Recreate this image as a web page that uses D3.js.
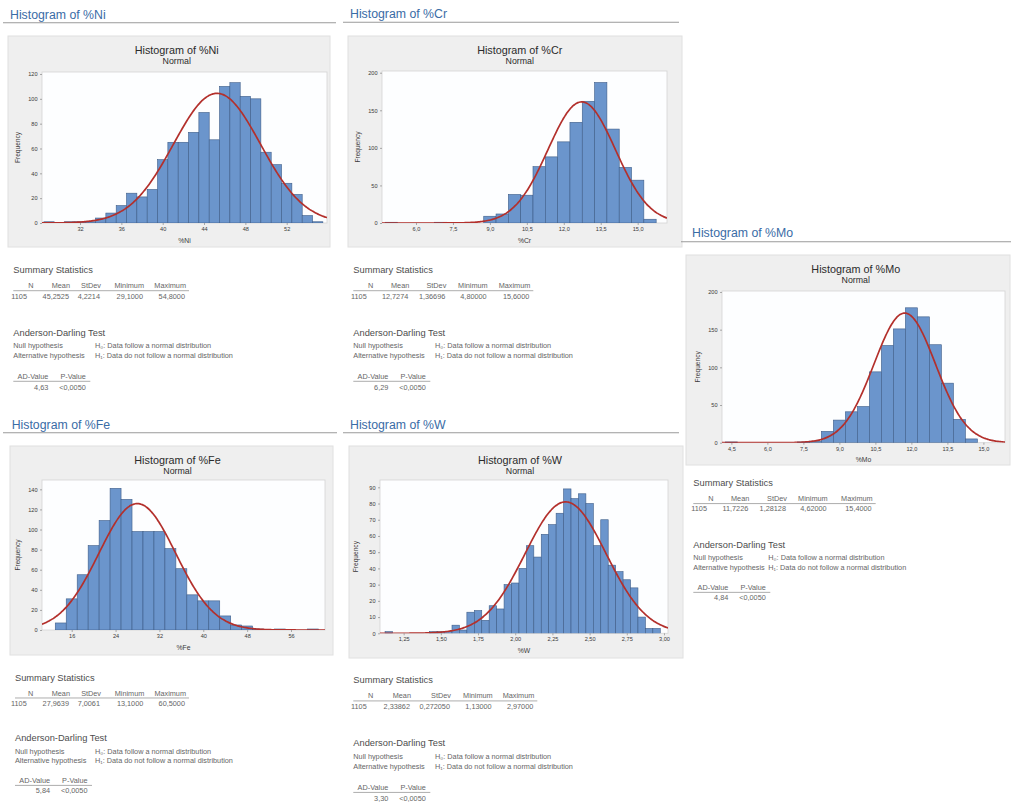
<!DOCTYPE html>
<html>
<head>
<meta charset="utf-8">
<script src="https://cdn.jsdelivr.net/npm/d3@7"></script>
<style>
  html, body { margin: 0; padding: 0; background: #ffffff; }
  svg { display: block; font-family: "Liberation Sans", Arial, Helvetica, sans-serif; }
</style>
</head>
<body>
<svg id="chart" width="1011" height="805"></svg>
<script>
// ---------- histogram data: bin centres and frequencies ----------
const niBins   = [29,30,31,32,33,34,35,36,37,38,39,40,41,42,43,44,45,46,47,48,49,50,51,52,53,54,55];
const niCounts = [1,0,1,1,1,4,8,14,24,21,27,51,65,65,73,89,67,110,113,102,100,57,47,32,23,6,1];
const niWidth  = 1;

const crBins   = [5.0,5.5,6.0,6.5,7.0,7.5,8.0,8.5,9.0,9.5,10.0,10.5,11.0,11.5,12.0,12.5,13.0,13.5,14.0,14.5,15.0,15.5];
const crCounts = [1,0,0,0,1,0,0,0,9,12,38,37,75,88,108,134,162,187,125,74,57,5];
const crWidth  = 0.5;

const moBins   = [4.5,5.0,5.5,6.0,6.5,7.0,7.5,8.0,8.5,9.0,9.5,10.0,10.5,11.0,11.5,12.0,12.5,13.0,13.5,14.0,14.5];
const moCounts = [1,0,0,0,0,0,1,2,15,30,41,48,94,129,151,179,167,130,79,31,5];
const moWidth  = 0.5;

const feBins   = [14,16,18,20,22,24,26,28,30,32,34,36,38,40,42,44,46,48,50,52,54,56,58,60];
const feCounts = [7,31,55,84,109,141,130,98,98,98,81,61,35,29,29,14,5,4,1,0,1,0,0,1];
const feWidth  = 2;

const wBins   = [1.15,1.20,1.25,1.30,1.35,1.40,1.45,1.50,1.55,1.60,1.65,1.70,1.75,1.80,1.85,1.90,1.95,2.00,
                 2.05,2.10,2.15,2.20,2.25,2.30,2.35,2.40,2.45,2.50,2.55,2.60,2.65,2.70,2.75,2.80,2.85,2.90,2.95];
const wCounts = [1,0,0,0,0,0,1,1,1,5,2,13,14,8,17,15,30,31,40,54,47,61,67,74,89,83,86,80,54,70,42,38,33,28,10,3,3];
const wWidth  = 0.05;

// ---------- axis ticks ----------
const niXTicks = [32,36,40,44,48,52];
const niYTicks = [0,20,40,60,80,100,120];
const crXTicks = [6.0,7.5,9.0,10.5,12.0,13.5,15.0];
const crYTicks = [0,50,100,150,200];
const moXTicks = [4.5,6.0,7.5,9.0,10.5,12.0,13.5,15.0];
const moYTicks = [0,50,100,150,200];
const feXTicks = [16,24,32,40,48,56];
const feYTicks = [0,20,40,60,80,100,120,140];
const wXTicks  = [1.25,1.50,1.75,2.00,2.25,2.50,2.75,3.00];
const wYTicks  = [0,10,20,30,40,50,60,70,80,90];

// ---------- summary statistics: N, Mean, StDev, Minimum, Maximum ----------
const statHeaders = ["N","Mean","StDev","Minimum","Maximum"];
const niSummary = ["1105","45,2525","4,2214","29,1000","54,8000"];
const crSummary = ["1105","12,7274","1,36696","4,80000","15,6000"];
const moSummary = ["1105","11,7226","1,28128","4,62000","15,4000"];
const feSummary = ["1105","27,9639","7,0061","13,1000","60,5000"];
const wSummary  = ["1105","2,33862","0,272050","1,13000","2,97000"];

// ---------- Anderson-Darling results: AD-Value, P-Value ----------
const adHeaders = ["AD-Value","P-Value"];
const niAD = ["4,63","<0,0050"];
const crAD = ["6,29","<0,0050"];
const moAD = ["4,84","<0,0050"];
const feAD = ["5,84","<0,0050"];
const wAD  = ["3,30","<0,0050"];

const hypLabels = ["Null hypothesis","Alternative hypothesis"];
const hypTexts  = ["H\u2080: Data follow a normal distribution","H\u2081: Data do not follow a normal distribution"];

// ---------- panel layout ----------
const panels = [
  { name: "Ni", bins: niBins, counts: niCounts, width: niWidth, xTicks: niXTicks, yTicks: niYTicks, xDec: 0,
    summary: niSummary, ad: niAD,
    head: { x: 10, y: 14.8, x1: 3, x2: 336, ry: 22.8 }, box: [8, 36, 330, 247],
    plot: [42, 72, 327, 223], xDom: [28.32, 55.9], yMax: 121.6,
    stats: { x: 13.3, y: 270, s: 1, cols: [13.7, 55.7, 86.7, 129.7, 171.7], hyp: 81.7 } },
  { name: "Cr", bins: crBins, counts: crCounts, width: crWidth, xTicks: crXTicks, yTicks: crYTicks, xDec: 1,
    summary: crSummary, ad: crAD,
    head: { x: 350, y: 14.3, x1: 343, x2: 679, ry: 22.3 }, box: [348, 36, 682, 247],
    plot: [382, 71, 667, 223], xDom: [4.62, 16.19], yMax: 202.3,
    stats: { x: 353.3, y: 270, s: 1, cols: [13.4, 55, 92, 133.4, 176], hyp: 81.7 } },
  { name: "Mo", bins: moBins, counts: moCounts, width: moWidth, xTicks: moXTicks, yTicks: moYTicks, xDec: 1,
    summary: moSummary, ad: moAD,
    head: { x: 692, y: 233.3, x1: 681, x2: 1011, ry: 241.8 }, box: [686, 255, 1010, 465],
    plot: [722, 291, 1005, 442.7], xDom: [4.11, 15.9], yMax: 201.3,
    stats: { x: 693.3, y: 483.3, s: 0.98, cols: [13.7, 55, 92.7, 133.4, 178.4], hyp: 75 } },
  { name: "Fe", bins: feBins, counts: feCounts, width: feWidth, xTicks: feXTicks, yTicks: feYTicks, xDec: 0,
    summary: feSummary, ad: feAD,
    head: { x: 11.7, y: 425, x1: 3, x2: 337, ry: 432.8 }, box: [10, 446, 333, 655],
    plot: [42, 480, 325, 630], xDom: [10.58, 62.2], yMax: 149.3,
    stats: { x: 15, y: 678, s: 0.965, cols: [11.7, 54, 85, 128.3, 170], hyp: 80 } },
  { name: "W", bins: wBins, counts: wCounts, width: wWidth, xTicks: wXTicks, yTicks: wYTicks, xDec: 2,
    summary: wSummary, ad: wAD,
    head: { x: 350, y: 425, x1: 343, x2: 679, ry: 432.8 }, box: [349, 446, 683, 658],
    plot: [380, 480, 668, 633.3], xDom: [1.091, 3.027], yMax: 94.5,
    stats: { x: 353.3, y: 680, s: 1.01, cols: [13.4, 56.7, 96.7, 138.4, 180], hyp: 81.7 } }
];

// ---------- styling ----------
const C = {
  heading: "#3a6ca6", rule: "#9a9a9a",
  box: "#efefef", boxEdge: "#e0e0e0",
  plotBg: "#fdfeff", plotEdge: "#d4d4d4",
  barFill: "#6b95cc", barEdge: "#3e5d88",
  curve: "#b3302c",
  title: "#2b2b2b", axis: "#3a3a3a",
  statTitle: "#4d4d4d", statText: "#666666"
};

const commaLocale = d3.formatLocale({ decimal: ",", thousands: ".", grouping: [3], currency: ["", ""] });
const parseNum = s => +s.replace(",", ".");

const svg = d3.select("#chart");
const defs = svg.append("defs");

panels.forEach(p => {
  const g = svg.append("g").attr("class", "panel-" + p.name);

  // section heading with rule
  g.append("text")
    .attr("x", p.head.x).attr("y", p.head.y)
    .attr("dominant-baseline", "central")
    .attr("font-size", 12.3).attr("fill", C.heading)
    .text("Histogram of %" + p.name);
  g.append("line")
    .attr("x1", p.head.x1).attr("x2", p.head.x2)
    .attr("y1", p.head.ry).attr("y2", p.head.ry)
    .attr("stroke", C.rule).attr("stroke-width", 1.1);

  // grey graph frame
  const [bx0, by0, bx1, by1] = p.box;
  g.append("rect")
    .attr("x", bx0).attr("y", by0).attr("width", bx1 - bx0).attr("height", by1 - by0)
    .attr("fill", C.box).attr("stroke", C.boxEdge).attr("stroke-width", 1);

  // plot area and scales
  const [L, T, R, B] = p.plot;
  const x = d3.scaleLinear().domain(p.xDom).range([L, R]);
  const y = d3.scaleLinear().domain([0, p.yMax]).range([B, T]);

  g.append("rect")
    .attr("x", L).attr("y", T).attr("width", R - L).attr("height", B - T)
    .attr("fill", C.plotBg).attr("stroke", C.plotEdge).attr("stroke-width", 0.8);

  const clipId = "clip-" + p.name;
  defs.append("clipPath").attr("id", clipId)
    .append("rect").attr("x", L).attr("y", T).attr("width", R - L).attr("height", B - T);

  // titles inside the frame
  const tx = ((bx0 + bx1) / 2 + (L + R) / 2) / 2;
  g.append("text")
    .attr("x", tx).attr("y", by0 + 13.8)
    .attr("text-anchor", "middle").attr("dominant-baseline", "central")
    .attr("font-size", 10.8).attr("fill", C.title)
    .text("Histogram of %" + p.name);
  g.append("text")
    .attr("x", tx).attr("y", by0 + 24.5)
    .attr("text-anchor", "middle").attr("dominant-baseline", "central")
    .attr("font-size", 8.8).attr("fill", C.title)
    .text("Normal");

  // histogram bars
  const rows = p.bins.map((b, i) => ({ c: b, n: p.counts[i] })).filter(d => d.n > 0);
  g.append("g").attr("clip-path", "url(#" + clipId + ")")
    .selectAll("rect").data(rows).join("rect")
    .attr("x", d => x(d.c - p.width / 2))
    .attr("width", d => x(d.c + p.width / 2) - x(d.c - p.width / 2))
    .attr("y", d => y(d.n))
    .attr("height", d => y(0) - y(d.n))
    .attr("fill", C.barFill).attr("stroke", C.barEdge).attr("stroke-width", 0.6);

  // fitted normal curve scaled to counts: N * binWidth * pdf(x)
  const n = parseNum(p.summary[0]), mu = parseNum(p.summary[1]), sd = parseNum(p.summary[2]);
  const steps = 240;
  const pts = d3.range(steps + 1).map(i => {
    const xv = p.xDom[0] + (p.xDom[1] - p.xDom[0]) * i / steps;
    const z = (xv - mu) / sd;
    return [xv, n * p.width * Math.exp(-0.5 * z * z) / (sd * Math.sqrt(2 * Math.PI))];
  });
  g.append("path")
    .attr("clip-path", "url(#" + clipId + ")")
    .attr("d", d3.line().x(d => x(d[0])).y(d => y(d[1])).curve(d3.curveBasis)(pts))
    .attr("fill", "none").attr("stroke", C.curve).attr("stroke-width", 1.7);

  // axes
  const xFmt = commaLocale.format("." + p.xDec + "f");
  const xAxis = g.append("g").attr("transform", `translate(0,${B})`)
    .call(d3.axisBottom(x).tickValues(p.xTicks).tickSize(2).tickPadding(2).tickFormat(xFmt));
  const yAxis = g.append("g").attr("transform", `translate(${L},0)`)
    .call(d3.axisLeft(y).tickValues(p.yTicks).tickSize(2).tickPadding(2.5).tickFormat(d3.format("d")));
  [xAxis, yAxis].forEach(ax => {
    ax.select(".domain").remove();
    ax.selectAll(".tick line").attr("stroke", "#777").attr("stroke-width", 0.6);
    ax.selectAll(".tick text").attr("font-size", 5.6).attr("fill", C.axis)
      .attr("font-family", "\"Liberation Sans\", Arial, sans-serif");
  });

  g.append("text")
    .attr("x", (L + R) / 2).attr("y", B + 17)
    .attr("text-anchor", "middle").attr("dominant-baseline", "central")
    .attr("font-size", 6.8).attr("fill", C.axis)
    .text("%" + p.name);
  g.append("text")
    .attr("transform", `translate(${L - 25},${(T + B) / 2}) rotate(-90)`)
    .attr("text-anchor", "middle").attr("dominant-baseline", "central")
    .attr("font-size", 6.6).attr("fill", C.axis)
    .text("Frequency");

  // ---------- statistics tables ----------
  const s = p.stats;
  const sg = g.append("g").attr("transform", `translate(${s.x},${s.y})`);
  const yy = v => v * s.s;
  const txt = (xp, yp, str, size, fill, anchor) => sg.append("text")
    .attr("x", xp).attr("y", yy(yp))
    .attr("dominant-baseline", "central")
    .attr("text-anchor", anchor || "start")
    .attr("font-size", size).attr("fill", fill).text(str);

  txt(0, 0, "Summary Statistics", 9.3, C.statTitle);
  statHeaders.forEach((h, i) => txt(s.cols[i] + (i === 0 ? 6.5 : 1), 15.7, h, 7.3, C.statText, "end"));
  sg.append("line").attr("x1", 0).attr("x2", s.cols[4] + 4)
    .attr("y1", yy(20.7)).attr("y2", yy(20.7))
    .attr("stroke", "#8a8a8a").attr("stroke-width", 0.7);
  p.summary.forEach((v, i) => txt(s.cols[i], 26, v, 7.3, C.statText, "end"));

  txt(0, 62.5, "Anderson-Darling Test", 9.3, C.statTitle);
  hypLabels.forEach((h, i) => {
    txt(0, 75.7 + i * 10, h, 7.3, C.statText);
    txt(s.hyp, 75.7 + i * 10, hypTexts[i], 7.3, C.statText);
  });
  const adCols = [35, 72.5];
  adHeaders.forEach((h, i) => txt(adCols[i], 106.5, h, 7.3, C.statText, "end"));
  sg.append("line").attr("x1", 0).attr("x2", 77)
    .attr("y1", yy(111.3)).attr("y2", yy(111.3))
    .attr("stroke", "#8a8a8a").attr("stroke-width", 0.7);
  p.ad.forEach((v, i) => txt(adCols[i], 117, v, 7.3, C.statText, "end"));
});
</script>
</body>
</html>
